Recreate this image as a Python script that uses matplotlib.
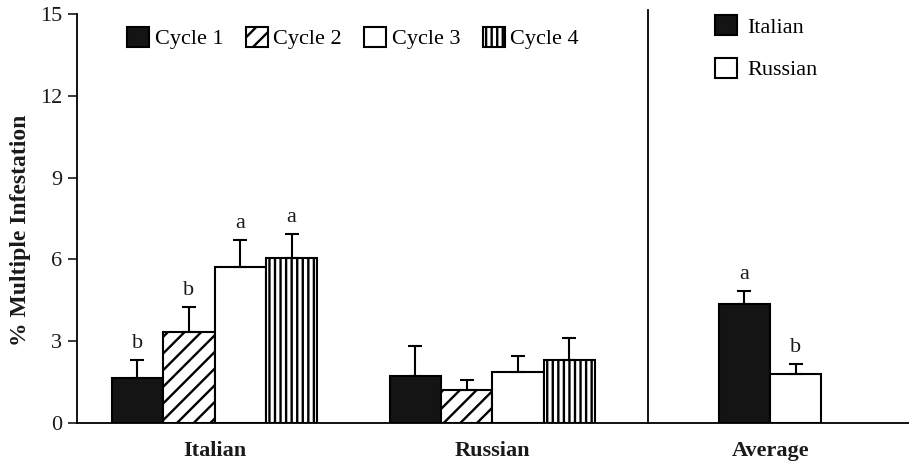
import numpy as np
import matplotlib
matplotlib.use('Agg')
import matplotlib.pyplot as plt
from matplotlib.patches import Patch

plt.rcParams['font.family'] = ['Liberation Serif', 'DejaVu Serif']
plt.rcParams['hatch.linewidth'] = 1.7

# data
groups = ['Italian', 'Russian', 'Average']
cycles = ['Cycle 1', 'Cycle 2', 'Cycle 3', 'Cycle 4']
italian_mean = [1.65, 3.34, 5.72, 6.05]
italian_err = [0.66, 0.91, 0.99, 0.88]
italian_sig = ['b', 'b', 'a', 'a']
russian_mean = [1.72, 1.21, 1.87, 2.31]
russian_err = [1.10, 0.37, 0.59, 0.81]
avg_labels = ['Italian', 'Russian']
avg_mean = [4.36, 1.80]
avg_err = [0.48, 0.36]
avg_sig = ['a', 'b']

dark = '#141414'
cycle_fill = [dark, 'white', 'white', 'white']
cycle_hatch = [None, '//', None, '|||']
avg_fill = [dark, 'white']

fig = plt.figure(figsize=(9.09, 4.63), dpi=100)
ax = fig.add_axes([0.0847, 0.0864, 0.9153, 0.8834])

w = 0.185
x_cyc = (np.arange(4) - 1.5) * w

def bars(x, h, err, fill, hatch):
    ax.bar(x, h, width=w, color=fill, edgecolor='black', linewidth=1.5,
           hatch=hatch, zorder=2)
    ax.errorbar(x, h, yerr=[np.zeros(len(h)), err], fmt='none', ecolor='black',
                elinewidth=1.5, capsize=5, capthick=1.5, zorder=3)

for i in range(4):
    bars([0 + x_cyc[i]], [italian_mean[i]], [italian_err[i]], cycle_fill[i], cycle_hatch[i])
    bars([1 + x_cyc[i]], [russian_mean[i]], [russian_err[i]], cycle_fill[i], cycle_hatch[i])
    ax.annotate(italian_sig[i], (0 + x_cyc[i], italian_mean[i] + italian_err[i]),
                xytext=(0, 5), textcoords='offset points', ha='center', va='bottom',
                fontsize=16, color='#1a1a1a')

x_avg = 2 + (np.arange(2) - 0.5) * w
for i in range(2):
    bars([x_avg[i]], [avg_mean[i]], [avg_err[i]], avg_fill[i], None)
    ax.annotate(avg_sig[i], (x_avg[i], avg_mean[i] + avg_err[i]),
                xytext=(0, 5), textcoords='offset points', ha='center', va='bottom',
                fontsize=16, color='#1a1a1a')

ax.axvline(1.559, ymin=0, ymax=1.01, color='black', lw=1.3, clip_on=False)

ax.set_xlim(-0.495, 2.5)
ax.set_ylim(0, 15)
ax.set_yticks([0, 3, 6, 9, 12, 15])
ax.set_xticks([0, 1, 2])
ax.set_xticklabels(groups, fontweight='bold', fontsize=16)
ax.tick_params(axis='x', length=0, pad=13, colors='#1a1a1a')
ax.tick_params(axis='y', length=6.5, width=1.2, pad=4, labelsize=16, colors='#1a1a1a')
for s in ['top', 'right']:
    ax.spines[s].set_visible(False)
for s in ['left', 'bottom']:
    ax.spines[s].set_linewidth(1.3)
ax.set_ylabel('% Multiple Infestation', fontsize=17, fontweight='bold', color='#1a1a1a')
ax.yaxis.set_label_coords(-0.055, 0.47)

h1 = [Patch(facecolor=cycle_fill[i], edgecolor='black', linewidth=1.5,
            hatch=cycle_hatch[i]) for i in range(4)]
leg1 = ax.legend(h1, cycles, loc='center left', bbox_to_anchor=(0.06, 0.941),
                 ncol=4, frameon=False, fontsize=16, handlelength=1.0,
                 handleheight=1.0, handletextpad=0.25, columnspacing=1.0,
                 borderpad=0, borderaxespad=0)
ax.add_artist(leg1)

h2 = [Patch(facecolor=avg_fill[i], edgecolor='black', linewidth=1.5) for i in range(2)]
ax.legend(h2, avg_labels, loc='center left', bbox_to_anchor=(0.767, 0.917),
          frameon=False, fontsize=16, handlelength=1.0, handleheight=1.0,
          handletextpad=0.45, labelspacing=0.9, borderpad=0, borderaxespad=0)

fig.savefig('out.png', dpi=100)
